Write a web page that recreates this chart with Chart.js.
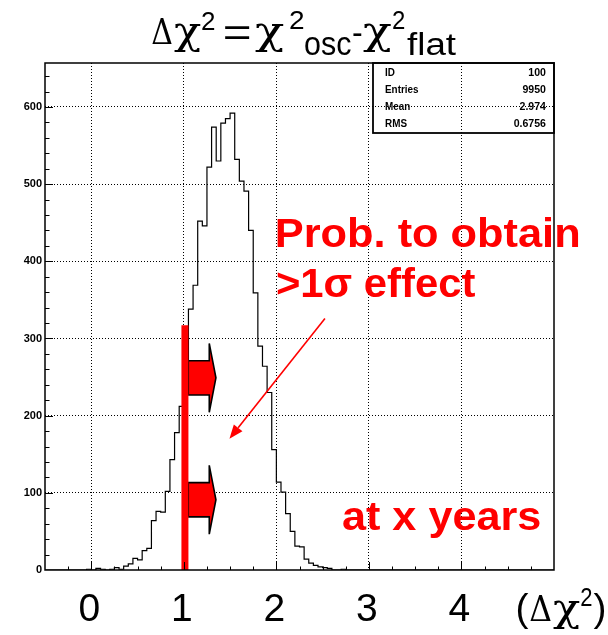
<!DOCTYPE html>
<html><head><meta charset="utf-8">
<script src="https://cdn.jsdelivr.net/npm/chart.js@4/dist/chart.umd.min.js"></script>
<style>html,body{margin:0;padding:0;background:#fff}canvas{display:block}</style>
</head><body>
<canvas id="c" width="608" height="635"></canvas>
<script>
// ---------------- data ----------------
const binStart = -0.5;
const binWidth = 0.05;
const counts = [
  0,0,0,0,0,0,0,0,0,0,            // -0.50 .. -0.05
  1,0,2,1,0,1,3,1,5,8,            // 0.00 .. 0.45
  15,13,25,28,64,76,75,102,143,178, // 0.50 .. 0.95
  212,250,338,369,452,446,522,574,530,579, // 1.00 .. 1.45
  585,592,532,504,491,440,359,290,264,230, // 1.50 .. 1.95
  156,114,101,73,50,31,30,14,9,6,  // 2.00 .. 2.45
  4,3,2,0,0,1,0,0,0,0,            // 2.50 .. 2.95
  0,0,0,0,0,0,0,0,0,0,            // 3.00 .. 3.45
  0,0,0,0,0,0,0,0,0,0,            // 3.50 .. 3.95
  0,0,0,0,0,0,0,0,0,0,            // 4.00 .. 4.45
  0,0,0,0,0,0,0,0,0,0             // 4.50 .. 4.95
];
const xTickValues = [0, 1, 2, 3, 4];
const xTickLabels = ['0', '1', '2', '3', '4'];
const yTickValues = [0, 100, 200, 300, 400, 500, 600];
const statsLabels = ['ID', 'Entries', 'Mean', 'RMS'];
const statsValues = ['100', '9950', '2.974', '0.6756'];
const cutX = 1.012;       // red cut line position
const cutTop = 317;       // red cut line height
const blockArrowYs = [249, 91];   // centre heights of the two block arrows
const pointerFrom = [2.525, 326]; // thin arrow start (x, y)
const pointerTo = [1.493, 170];   // thin arrow end (x, y)

// ---------------- helpers ----------------
const RED = '#ff0000';
const SANS = '"Liberation Sans", Arial, Helvetica, sans-serif';
const GREEK = '"DejaVu Serif", "Liberation Serif", serif';

function drawSpan(ctx, text, font, x0, x1, base) {
  ctx.save();
  ctx.font = font; ctx.textAlign = 'left'; ctx.textBaseline = 'alphabetic';
  const m = ctx.measureText(text);
  const iw = m.actualBoundingBoxLeft + m.actualBoundingBoxRight;
  const sx = (x1 - x0) / iw;
  ctx.translate(x0 + m.actualBoundingBoxLeft * sx, base);
  ctx.scale(sx, 1);
  ctx.fillText(text, 0, 0);
  ctx.restore();
}
function drawScaled(ctx, text, font, cx, base, sx) {
  ctx.save();
  ctx.font = font; ctx.textAlign = 'left'; ctx.textBaseline = 'alphabetic';
  const w = ctx.measureText(text).width * sx;
  ctx.translate(cx - w / 2, base);
  ctx.scale(sx, 1);
  ctx.fillText(text, 0, 0);
  ctx.restore();
}

// ---------------- datasets ----------------
const histPoints = counts.map((c, i) => ({ x: binStart + i * binWidth, y: c }));
histPoints.push({ x: binStart + counts.length * binWidth, y: 0 });

const decorPlugin = {
  id: 'decor',
  beforeDraw(chart) {
    const ctx = chart.ctx;
    ctx.save();
    ctx.fillStyle = '#fff';
    ctx.fillRect(0, 0, chart.width, chart.height);
    // stats box (drawn beneath the grid)
    const bx0 = 373, bx1 = chart.chartArea.right, by0 = chart.chartArea.top, by1 = 133;
    ctx.strokeStyle = '#000'; ctx.lineWidth = 1.8;
    ctx.strokeRect(bx0, by0, bx1 - bx0, by1 - by0);
    ctx.fillStyle = '#000';
    const rowBase = [75.5, 92.5, 109.5, 126.5];
    statsLabels.forEach((t, i) => {
      ctx.save();
      ctx.font = 'bold 11.5px ' + SANS;
      ctx.translate(385, rowBase[i]); ctx.scale(0.86, 1);
      ctx.textAlign = 'left'; ctx.fillText(t, 0, 0);
      ctx.restore();
      ctx.save();
      ctx.font = 'bold 11.5px ' + SANS;
      ctx.translate(546, rowBase[i]); ctx.scale(0.92, 1);
      ctx.textAlign = 'right'; ctx.fillText(statsValues[i], 0, 0);
      ctx.restore();
    });
    ctx.restore();
  },
  afterDatasetDraw(chart, args) {
    if (args.index !== 0) return;
    // block arrows, drawn over the histogram but below the red cut line
    const ctx = chart.ctx, xs = chart.scales.x, ys = chart.scales.y;
    ctx.save();
    blockArrowYs.forEach(yc => {
      const x0 = xs.getPixelForValue(1.048), x1 = xs.getPixelForValue(1.275), x2 = xs.getPixelForValue(1.347);
      const yb1 = ys.getPixelForValue(yc + 22.2), yb2 = ys.getPixelForValue(yc - 22.2);
      const yh1 = ys.getPixelForValue(yc + 44.6), yh2 = ys.getPixelForValue(yc - 44.6);
      const ym = ys.getPixelForValue(yc);
      ctx.beginPath();
      ctx.moveTo(x0, yb1); ctx.lineTo(x1, yb1); ctx.lineTo(x1, yh1); ctx.lineTo(x2, ym);
      ctx.lineTo(x1, yh2); ctx.lineTo(x1, yb2); ctx.lineTo(x0, yb2); ctx.closePath();
      ctx.fillStyle = RED; ctx.fill();
      ctx.strokeStyle = '#000'; ctx.lineWidth = 1.6; ctx.lineJoin = 'miter'; ctx.stroke();
    });
    ctx.restore();
  },
  afterDraw(chart) {
    const ctx = chart.ctx, xs = chart.scales.x, ys = chart.scales.y, a = chart.chartArea;
    ctx.save();
    // inward tick marks
    ctx.strokeStyle = '#000'; ctx.lineWidth = 1;
    ctx.beginPath();
    for (let k = -1; k <= 19; k++) {
      const v = k * 0.25; const px = Math.round(xs.getPixelForValue(v)) + 0.5;
      const len = (k % 4 === 0) ? 8 : 3.5;
      ctx.moveTo(px, a.bottom); ctx.lineTo(px, a.bottom - len);
    }
    for (let k = 1; k <= 32; k++) {
      const v = k * 20; const py = Math.round(ys.getPixelForValue(v)) + 0.5;
      const len = (k % 5 === 0) ? 8 : 4.5;
      ctx.moveTo(a.left, py); ctx.lineTo(a.left + len, py);
    }
    ctx.stroke();
    // frame
    ctx.lineWidth = 1.5;
    ctx.strokeRect(a.left, a.top, a.right - a.left, a.bottom - a.top);

    // thin pointer arrow
    const sx = xs.getPixelForValue(pointerFrom[0]), sy = ys.getPixelForValue(pointerFrom[1]);
    const ex = xs.getPixelForValue(pointerTo[0]), ey = ys.getPixelForValue(pointerTo[1]);
    const ang = Math.atan2(ey - sy, ex - sx);
    const hl = 14, hw = 5.5;
    const bxp = ex - hl * Math.cos(ang), byp = ey - hl * Math.sin(ang);
    ctx.strokeStyle = RED; ctx.fillStyle = RED; ctx.lineWidth = 1.6;
    ctx.beginPath(); ctx.moveTo(sx, sy); ctx.lineTo(bxp, byp); ctx.stroke();
    ctx.beginPath();
    ctx.moveTo(ex, ey);
    ctx.lineTo(bxp + hw * Math.sin(ang), byp - hw * Math.cos(ang));
    ctx.lineTo(bxp - hw * Math.sin(ang), byp + hw * Math.cos(ang));
    ctx.closePath(); ctx.fill();

    // red annotation texts
    ctx.fillStyle = RED;
    drawSpan(ctx, 'Prob. to obtain', 'bold 40px ' + SANS, 277, 578, 247);
    drawSpan(ctx, '>1σ effect', 'bold 40px ' + SANS, 277, 475, 297);
    drawSpan(ctx, 'at x years', 'bold 40px ' + SANS, 343, 540, 530);

    // title
    ctx.fillStyle = '#000';
    drawSpan(ctx, 'Δ', '36px ' + GREEK, 152, 172, 43.5);
    drawSpan(ctx, 'χ', '40px ' + GREEK, 174, 201, 43.5);
    drawSpan(ctx, '2', '26px ' + SANS, 202, 215, 30);
    drawSpan(ctx, '=', '38px ' + SANS, 224, 250, 45.5);
    drawSpan(ctx, 'χ', '40px ' + GREEK, 255, 284, 43.5);
    drawSpan(ctx, '2', '26px ' + SANS, 290, 304, 29);
    drawSpan(ctx, 'osc', '34px ' + SANS, 305, 351.5, 55);
    drawSpan(ctx, '-', '34px ' + SANS, 353, 361.5, 44);
    drawSpan(ctx, 'χ', '40px ' + GREEK, 363, 391.5, 43.5);
    drawSpan(ctx, '2', '26px ' + SANS, 393, 405, 29);
    drawSpan(ctx, 'flat', '31px ' + SANS, 407, 456.5, 55);

    // x tick labels
    xTickValues.forEach((v, i) => {
      drawScaled(ctx, xTickLabels[i], '39px ' + SANS, xs.getPixelForValue(v) - 2, 621, 1.0);
    });
    // axis label (Δχ²)
    drawScaled(ctx, '(', '39px ' + SANS, 522, 621, 1.0);
    drawSpan(ctx, 'Δ', '36px ' + GREEK, 530, 551, 621);
    drawSpan(ctx, 'χ', '40px ' + GREEK, 553, 580, 621);
    drawSpan(ctx, '2', '26px ' + SANS, 581, 592, 606);
    drawScaled(ctx, ')', '39px ' + SANS, 600, 621, 1.0);
    ctx.restore();
  }
};

new Chart(document.getElementById('c').getContext('2d'), {
  type: 'scatter',
  data: {
    datasets: [
      { data: histPoints, showLine: true, stepped: 'after', borderColor: '#000', borderWidth: 1.2,
        pointRadius: 0, fill: false, order: 2 },
      { data: [{ x: cutX, y: 0 }, { x: cutX, y: cutTop }], showLine: true, borderColor: RED,
        borderWidth: 7, pointRadius: 0, fill: false, order: 1, borderCapStyle: 'butt' }
    ]
  },
  options: {
    responsive: false, animation: false, devicePixelRatio: 1,
    layout: { padding: { top: 63, right: 54, left: 0, bottom: 0 } },
    plugins: { legend: { display: false }, tooltip: { enabled: false }, title: { display: false } },
    scales: {
      x: {
        type: 'linear', min: -0.5, max: 5,
        afterBuildTicks: s => { s.ticks = xTickValues.map(v => ({ value: v })); },
        afterFit: s => { s.height = 65; },
        ticks: { display: false },
        grid: { color: '#000', lineWidth: 1, drawTicks: false },
        border: { display: false, dash: [1, 2] }
      },
      y: {
        type: 'linear', min: 0, max: 657,
        afterBuildTicks: s => { s.ticks = yTickValues.map(v => ({ value: v })); },
        afterFit: s => { s.width = 45; },
        ticks: { color: '#000', padding: 3, font: { family: SANS, size: 11, weight: 'bold' } },
        grid: { color: c => (c.tick && c.tick.value === 0) ? 'rgba(0,0,0,0)' : '#000', lineWidth: 1, drawTicks: false },
        border: { display: false, dash: [1, 2] }
      }
    }
  },
  plugins: [decorPlugin]
});
</script>
</body></html>
